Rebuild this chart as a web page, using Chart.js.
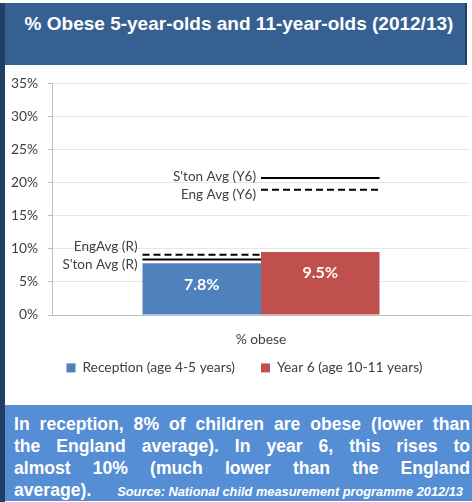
<!DOCTYPE html>
<html>
<head>
<meta charset="utf-8">
<script src="https://cdn.jsdelivr.net/npm/chart.js@4"></script>
<style>
  html, body { margin: 0; padding: 0; background: #fff; }
  body { width: 472px; height: 502px; position: relative; overflow: hidden; }
  #edge { position: absolute; left: 0; top: 3px; width: 5px; height: 499px; background: #1F3F66; }
  #header { position: absolute; left: 5px; top: 3px; width: 460px; height: 62px; background: #376092;
    border-right: 2px solid #1F3F66; }
  #header h1 { margin: 0; padding: 10px 0 0 8px; text-align: center; color: #fff; white-space: nowrap;
    font: bold 19px "Liberation Sans", Arial, sans-serif; }
  #chartbox { position: absolute; left: 5px; top: 65px; width: 467px; height: 340px; }
  #note { position: absolute; left: 5px; top: 405px; width: 456px; height: 88px; background: #558ED5;
    padding: 8px 2px 0 9px; color: #fff;
    font: bold 17.6px/22px "Liberation Sans", Arial, sans-serif; }
  #note .ln { text-align: justify; text-align-last: justify; white-space: nowrap; }
  #note .src { font: italic bold 12.8px "Liberation Sans", Arial, sans-serif; margin-left: 26px; }
</style>
</head>
<body>
<div id="edge"></div>
<div id="header"><h1>% Obese 5-year-olds and 11-year-olds (2012/13)</h1></div>
<div id="chartbox"><canvas id="obeseChart" width="467" height="340"></canvas></div>
<div id="note">
  <div class="ln">In reception, 8% of children are obese (lower than</div>
  <div class="ln">the England average). In year 6, this rises to</div>
  <div class="ln">almost 10% (much lower than the England</div>
  <div style="white-space: nowrap">average).<span class="src">Source: National child measurement programme 2012/13</span></div>
</div>

<script>
// categories and series
const categories = ['% obese'];
const seriesNames = ['Reception (age 4-5 years)', 'Year 6 (age 10-11 years)'];
const seriesValues = [7.8, 9.5];
const seriesColors = ['#4F81BD', '#C0504D'];

// averages (Southampton solid, England dashed)
const stonAvg = [8.4, 20.7];
const engAvg = [9.1, 18.9];
const stonLabels = ["S'ton Avg (R)", "S'ton Avg (Y6)"];
const engLabels = ['EngAvg (R)', 'Eng Avg (Y6)'];

// y axis ticks
const yMin = 0, yMax = 35, yStep = 5;

const axisFont = { family: 'Lato, "Open Sans", sans-serif', size: 13.8 };

// draws the average lines over each bar + value labels
const avgLines = {
  id: 'avgLines',
  afterDatasetsDraw(chart, args, opts) {
    const ctx = chart.ctx;
    const y = chart.scales.y;
    ctx.save();
    seriesValues.forEach((v, i) => {
      const bar = chart.getDatasetMeta(i).data[0];
      const left = bar.x - bar.width / 2, right = bar.x + bar.width / 2;

      // value label inside bar
      ctx.fillStyle = '#fff';
      ctx.font = 'bold 16px Lato, "Open Sans", sans-serif';
      ctx.textAlign = 'center';
      ctx.textBaseline = 'middle';
      ctx.fillText(v.toFixed(1) + '%', bar.x, bar.y + 21);

      const ys = y.getPixelForValue(stonAvg[i]);
      const ye = y.getPixelForValue(engAvg[i]);
      ctx.strokeStyle = '#000';
      ctx.lineWidth = 2;
      ctx.setLineDash([]);
      ctx.beginPath(); ctx.moveTo(left, ys); ctx.lineTo(right, ys); ctx.stroke();
      ctx.setLineDash([7, 4]);
      ctx.beginPath(); ctx.moveTo(left, ye); ctx.lineTo(right, ye); ctx.stroke();

      ctx.fillStyle = '#404040';
      ctx.font = '13.5px Lato, "Open Sans", sans-serif';
      ctx.textAlign = 'right';
      ctx.fillText(stonLabels[i], left - 5, ys + opts.stonShift[i]);
      ctx.fillText(engLabels[i], left - 5, ye + opts.engShift[i]);
    });
    ctx.restore();
  }
};

// pull the legend up under the axis title and nudge it right
const legendPlace = {
  id: 'legendPlace',
  beforeInit(chart) {
    const fit = chart.legend.fit;
    chart.legend.fit = function () { fit.call(this); this.height = 40; };
  },
  afterLayout(chart) {
    const lg = chart.legend;
    lg.top -= 17; lg.bottom -= 17;
    lg.left += 7; lg.right += 7;
  }
};

const ctx = document.getElementById('obeseChart').getContext('2d');
new Chart(ctx, {
  type: 'bar',
  data: {
    labels: categories,
    datasets: seriesNames.map((name, i) => ({
      label: name,
      data: [seriesValues[i]],
      backgroundColor: seriesColors[i],
      barPercentage: 1,
      categoryPercentage: 0.567
    }))
  },
  options: {
    responsive: false,
    animation: false,
    layout: { padding: { top: 16, left: 0, right: 2, bottom: 13 } },
    scales: {
      x: {
        afterFit(scale) { scale.height = 37; },
        grid: { display: false, drawTicks: false },
        border: { color: '#BFBFBF' },
        ticks: { color: '#404040', font: axisFont, padding: 16 }
      },
      y: {
        min: yMin, max: yMax,
        afterFit(scale) { scale.width = 47; },
        grid: { color: '#E6E6E6', tickLength: 4, tickColor: '#BFBFBF' },
        border: { color: '#BFBFBF' },
        ticks: { stepSize: yStep, color: '#404040', font: axisFont, padding: 10,
          callback: v => v + '%' }
      }
    },
    plugins: {
      legend: {
        position: 'bottom',
        labels: { color: '#404040', font: axisFont, boxWidth: 9, boxHeight: 9, padding: 26 }
      },
      tooltip: { enabled: false },
      avgLines: { stonShift: [5, -1], engShift: [-8, 5] }
    }
  },
  plugins: [avgLines, legendPlace]
});
</script>
</body>
</html>
